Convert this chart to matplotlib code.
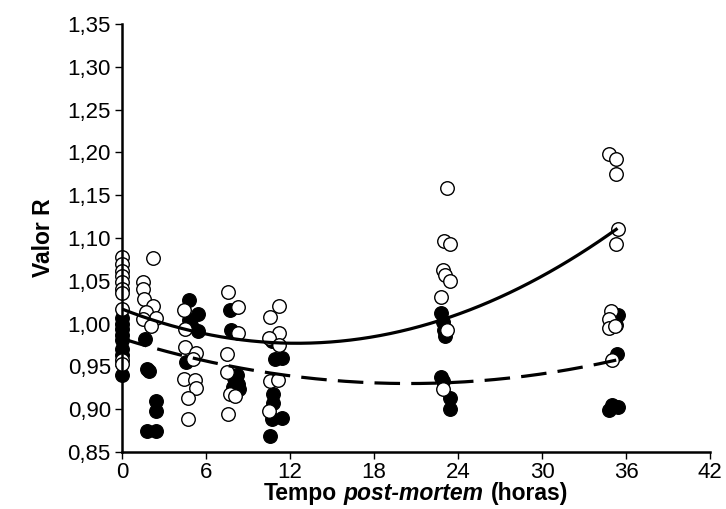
import matplotlib
matplotlib.use("Agg")
import matplotlib.pyplot as plt
import numpy as np
from matplotlib.ticker import FuncFormatter, MultipleLocator
from matplotlib.offsetbox import TextArea, HPacker, AnchoredOffsetbox

plt.rcParams['font.family'] = ['Liberation Sans', 'DejaVu Sans']

# open circles (t in hours, R value)
open_t = [0, 0, 0, 0, 0, 0, 0, 0, 0, 0,
          2.2, 1.5, 1.5, 1.55, 2.25, 1.7, 2.4, 1.5, 2.1,
          4.4, 4.5, 4.5, 5.3, 5.1, 4.45, 5.2, 5.3, 4.7, 4.7,
          7.55, 8.3, 8.3, 7.5, 7.5, 7.7, 8.1, 7.55,
          11.2, 10.6, 11.25, 10.5, 11.2, 10.55, 11.15, 10.5,
          23.2, 23.0, 23.4, 22.9, 23.1, 23.4, 22.8, 23.2, 22.9,
          34.8, 35.3, 35.3, 35.4, 35.25, 34.95, 34.75, 34.8, 35.2, 35.0]
open_v = [1.078, 1.070, 1.061, 1.055, 1.049, 1.040, 1.036, 1.017, 0.957, 0.953,
          1.077, 1.048, 1.040, 1.029, 1.020, 1.014, 1.007, 1.005, 0.997,
          1.016, 0.994, 0.973, 0.966, 0.959, 0.935, 0.934, 0.925, 0.913, 0.889,
          1.037, 1.019, 0.989, 0.964, 0.943, 0.918, 0.915, 0.894,
          1.020, 1.008, 0.989, 0.983, 0.975, 0.933, 0.934, 0.898,
          1.158, 1.096, 1.093, 1.063, 1.057, 1.050, 1.031, 0.992, 0.924,
          1.198, 1.192, 1.175, 1.110, 1.093, 1.015, 1.005, 0.995, 0.997, 0.958]

# filled circles
filled_t = [0, 0, 0, 0, 0, 0, 0, 0,
            1.65, 1.8, 1.9, 2.45, 2.45, 1.8, 2.45,
            4.8, 5.4, 4.8, 5.4, 4.9, 4.6,
            7.7, 7.8, 8.2, 8.0, 8.3, 7.9, 8.35,
            10.7, 10.9, 11.4, 10.8, 10.8, 10.7, 11.4, 10.6,
            22.8, 22.9, 23.0, 23.1, 22.8, 22.9, 23.4, 23.4,
            35.45, 35.35, 35.3, 34.8, 35.0, 35.45]
filled_v = [1.006, 1.000, 0.994, 0.987, 0.981, 0.970, 0.963, 0.940,
            0.982, 0.947, 0.945, 0.910, 0.898, 0.875, 0.875,
            1.027, 1.011, 1.004, 0.991, 0.998, 0.955,
            1.016, 0.992, 0.940, 0.936, 0.930, 0.926, 0.924,
            0.980, 0.959, 0.960, 0.918, 0.907, 0.888, 0.890, 0.869,
            1.012, 1.002, 0.993, 0.985, 0.938, 0.933, 0.913, 0.900,
            1.010, 0.965, 0.998, 0.899, 0.905, 0.903]

# quadratic trend coefficients (a + b t + c t^2)
solid_coef = [1.017, -0.0064, 0.000256]
dashed_coef = [0.9825, -0.005125, 0.000125]
trend_range = [0, 35.3]

xticks = [0, 6, 12, 18, 24, 30, 36, 42]

fig = plt.figure(figsize=(7.26, 5.09), dpi=100)
ax = fig.add_axes([0.168, 0.112, 0.810, 0.841])

ax.scatter(filled_t, filled_v, s=95, facecolor='black', edgecolor='black',
           linewidth=1, zorder=3, clip_on=False)
ax.scatter(open_t, open_v, s=95, facecolor='white', edgecolor='black',
           linewidth=1, zorder=3, clip_on=False)

tt = np.linspace(trend_range[0], trend_range[1], 200)
ys = solid_coef[0] + solid_coef[1] * tt + solid_coef[2] * tt ** 2
yd = dashed_coef[0] + dashed_coef[1] * tt + dashed_coef[2] * tt ** 2
ax.plot(tt, ys, color='black', lw=2.3, zorder=4)
ax.plot(tt, yd, color='black', lw=2.3, dashes=(8, 3.5), zorder=4)

ax.set_xlim(0, 42)
ax.set_ylim(0.85, 1.35)
ax.set_xticks(xticks)
ax.yaxis.set_major_locator(MultipleLocator(0.05))
ax.yaxis.set_major_formatter(FuncFormatter(lambda v, p: f"{v:.2f}".replace('.', ',')))
ax.spines['top'].set_visible(False)
ax.spines['right'].set_visible(False)
for s in ['left', 'bottom']:
    ax.spines[s].set_linewidth(1.8)
    ax.spines[s].set_zorder(5)
ax.tick_params(axis='both', direction='out', length=5, width=1,
               labelsize=16, colors='black')
ax.tick_params(axis='x', pad=2)
ax.tick_params(axis='y', pad=3)

ax.set_ylabel('Valor R', fontsize=16.5, fontweight='bold', labelpad=9)

parts = [TextArea('Tempo', textprops=dict(fontsize=16.5, fontweight='bold')),
         TextArea('post-mortem', textprops=dict(fontsize=16.5, fontweight='bold', style='italic')),
         TextArea('(horas)', textprops=dict(fontsize=16.5, fontweight='bold'))]
box = HPacker(children=parts, align='baseline', pad=0, sep=5)
anch = AnchoredOffsetbox(loc='center', child=box, pad=0, frameon=False,
                         bbox_to_anchor=(0.5, -0.098), bbox_transform=ax.transAxes,
                         borderpad=0)
ax.add_artist(anch)

fig.savefig('out.png', dpi=100)
